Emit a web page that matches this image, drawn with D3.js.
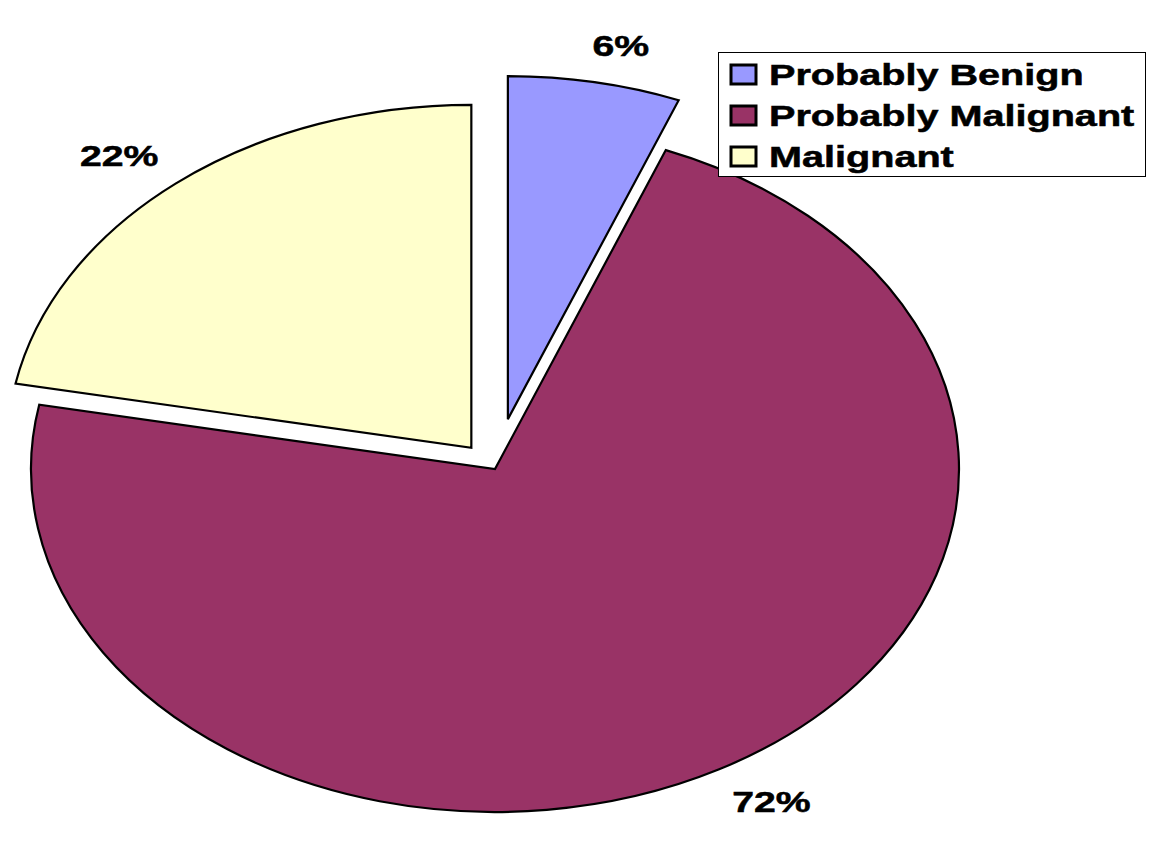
<!DOCTYPE html>
<html>
<head>
<meta charset="utf-8">
<script src="https://cdn.jsdelivr.net/npm/d3@7"></script>
<style>
  html, body { margin: 0; padding: 0; background: #fff; }
  svg { display: block; }
  text { font-family: "Liberation Sans", Arial, sans-serif; font-weight: bold; fill: #000; stroke: #000; stroke-width: 0.5px; }
</style>
</head>
<body>
<svg id="chart" width="1169" height="847"></svg>
<script>
// ---- data ----
const categories = ["Probably Benign", "Probably Malignant", "Malignant"];
const values = [6, 72, 22];
const labels = ["6%", "72%", "22%"];
const colors = ["#9999FF", "#993366", "#FFFFCC"];
const explode = [0.148, 0, 0.08];

// ---- layout ----
const W = 1169, H = 847;
const cx = 495, cy = 469;
const R = 343;            // vertical radius
const sx = 464 / 343;     // horizontal stretch of the picture
const fontSize = 29;

const svg = d3.select("#chart");

const pie = d3.pie().sort(null).value(d => d).startAngle(0).endAngle(2 * Math.PI);
const arcs = pie(values);
const arc = d3.arc().innerRadius(0).outerRadius(R);

arcs.forEach((a, i) => {
  const mid = (a.startAngle + a.endAngle) / 2;
  const e = explode[i] * R;
  const ox = cx + sx * e * Math.sin(mid);
  const oy = cy - e * Math.cos(mid);

  svg.append("g")
    .attr("transform", `translate(${ox},${oy}) scale(${sx},1)`)
    .append("path")
    .attr("d", arc(a))
    .attr("fill", colors[i])
    .attr("stroke", "#000")
    .attr("stroke-width", 2.2)
    .attr("stroke-linejoin", "miter")
    .attr("vector-effect", "non-scaling-stroke");

  // label: corner of text box placed outside the arc along the mid direction
  const px = ox + sx * R * Math.sin(mid);
  const py = oy - R * Math.cos(mid);
  const dx = sx * Math.sin(mid), dy = -Math.cos(mid);
  const len = Math.hypot(dx, dy);
  const gap = 27;
  const lx = px + 0.85 * gap * dx / len - (Math.abs(Math.sin(mid)) < 0.3 ? 8 : 0);
  const ly = py + gap * dy / len;
  const anchor = Math.sin(mid) >= 0 ? "start" : "end";
  const baseY = Math.cos(mid) >= 0 ? ly : ly + fontSize * 0.72;
  svg.append("g")
    .attr("transform", `translate(${lx},${baseY}) scale(${sx},1)`)
    .append("text")
    .attr("text-anchor", anchor)
    .attr("font-size", fontSize)
    .text(labels[i]);
});

// ---- legend ----
const lg = svg.append("g");
lg.append("rect")
  .attr("x", 718.5).attr("y", 52.5)
  .attr("width", 427).attr("height", 124)
  .attr("fill", "#fff").attr("stroke", "#000").attr("stroke-width", 1);

const rowY = d3.scaleLinear().domain([0, 1]).range([85, 126]);
categories.forEach((c, i) => {
  const by = rowY(i);
  lg.append("rect")
    .attr("x", 731).attr("y", by - 20)
    .attr("width", 25).attr("height", 19)
    .attr("fill", colors[i]).attr("stroke", "#000").attr("stroke-width", 3);
  lg.append("g")
    .attr("transform", `translate(769,${by}) scale(${sx * 1.01},1)`)
    .append("text")
    .attr("font-size", fontSize)
    .text(c);
});
</script>
</body>
</html>
